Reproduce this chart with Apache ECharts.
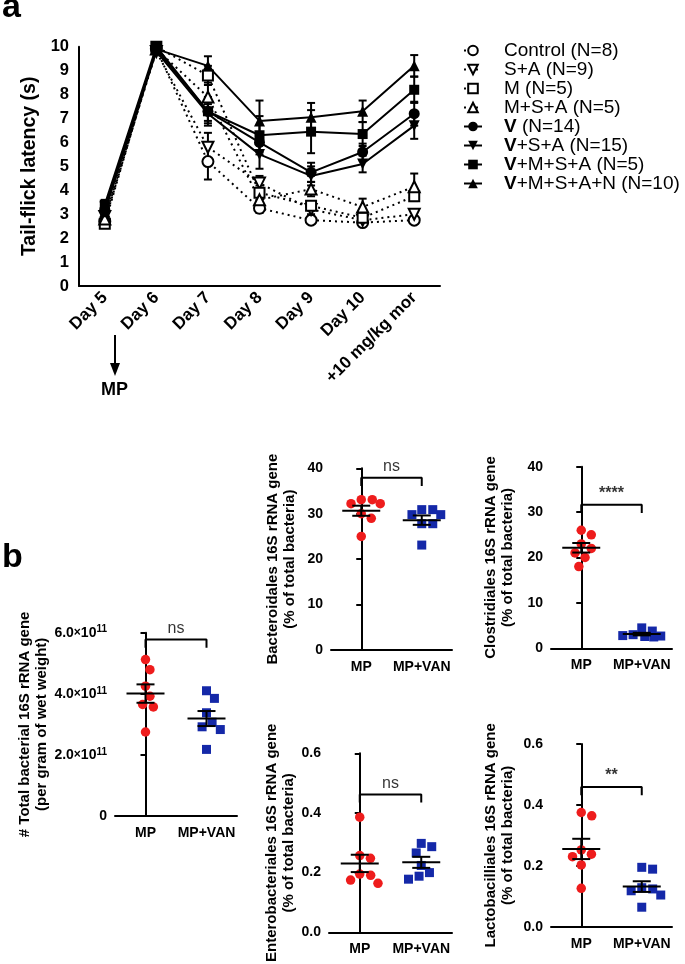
<!DOCTYPE html>
<html><head><meta charset="utf-8">
<script src="https://cdn.jsdelivr.net/npm/echarts@6/dist/echarts.min.js"></script>
<style>html,body{margin:0;padding:0;background:#fff}#c{width:685px;height:964px}</style>
</head><body><div id="c"></div>
<script>
// ---------- Panel a data ----------
const days = ['Day 5','Day 6','Day 7','Day 8','Day 9','Day 10','+10 mg/kg mor'];
const groupNames = ['Control (N=8)','S+A (N=9)','M (N=5)','M+S+A (N=5)','V (N=14)','V+S+A (N=15)','V+M+S+A (N=5)','V+M+S+A+N (N=10)'];
const controlMean = [2.7, 9.9, 5.2, 3.25, 2.75, 2.65, 2.75];
const controlErr  = [0.2, 0.1, 0.75, 0.2, 0.15, 0.15, 0.15];
const saMean      = [2.9, 9.8, 5.8, 4.3, 3.2, 2.75, 3.0];
const saErr       = [0.2, 0.1, 0.6, 0.3, 0.2, 0.15, 0.15];
const mMean       = [2.6, 10.0, 8.8, 3.9, 3.35, 2.85, 3.75];
const mErr        = [0.15, 0, 0.4, 0.3, 0.2, 0.15, 0.2];
const msaMean     = [2.8, 9.9, 7.9, 3.6, 4.05, 3.3, 4.15];
const msaErr      = [0.2, 0.1, 0.6, 0.3, 0.3, 0.35, 0.55];
const vMean       = [3.2, 9.9, 7.3, 6.0, 4.75, 5.6, 7.2];
const vErr        = [0.2, 0.1, 0.4, 0.4, 0.4, 0.35, 0.5];
const vsaMean     = [3.3, 9.8, 7.2, 5.5, 4.6, 5.1, 6.7];
const vsaErr      = [0.2, 0.1, 0.4, 0.6, 0.4, 0.35, 0.55];
const vmsaMean    = [3.4, 10.0, 7.3, 6.3, 6.45, 6.35, 8.2];
const vmsaErr     = [0.2, 0, 0.6, 0.8, 0.9, 0.5, 0.55];
const vmsanMean   = [3.1, 9.9, 9.2, 6.9, 7.05, 7.3, 9.2];
const vmsanErr    = [0.2, 0.1, 0.4, 0.85, 0.6, 0.45, 0.45];

// ---------- Panel b data ----------
const bCategories = ['MP','MP+VAN'];
const totalMP  = [5.12e11, 4.79e11, 4.25e11, 3.92e11, 3.65e11, 3.57e11, 2.75e11];
const totalVAN = [4.10e11, 3.85e11, 3.38e11, 3.07e11, 2.92e11, 2.83e11, 2.18e11];
const bactMP   = [33.1, 33.1, 32.2, 32.2, 30.0, 29.0, 25.0];
const bactVAN  = [30.9, 30.9, 29.8, 29.8, 27.8, 27.8, 23.1];
const closMP   = [26.0, 25.0, 23.0, 22.0, 21.0, 20.0, 18.0];
const closVAN  = [4.5, 3.8, 3.0, 2.8, 2.7, 2.6, 2.5];
const enteroMP = [0.386, 0.257, 0.248, 0.195, 0.191, 0.175, 0.164];
const enteroVAN= [0.298, 0.287, 0.266, 0.224, 0.200, 0.188, 0.178];
const lactoMP  = [0.375, 0.364, 0.252, 0.238, 0.230, 0.203, 0.126];
const lactoVAN = [0.195, 0.189, 0.128, 0.124, 0.118, 0.104, 0.064];
const sigLabels = ['ns','ns','****','ns','**'];
const bracketLevels = [5.78e11, 37.9, 31.6, 0.462, 0.459];
const yMaxB = [6e11, 40, 40, 0.6, 0.6];
const yStepB = [2e11, 10, 10, 0.2, 0.2];
const bTitles = [
  '# Total bacterial 16S rRNA gene\n(per gram of wet weight)',
  'Bacteroidales 16S rRNA gene\n(% of total bacteria)',
  'Clostridiales 16S rRNA gene\n(% of total bacteria)',
  'Enterobacteriales 16S rRNA gene\n(% of total bacteria)',
  'Lactobacilliales 16S rRNA gene\n(% of total bacteria)'
];

// ---------- layout / style ----------
const FONT = "'Liberation Sans', Arial, sans-serif";
const RED = '#ee1c1c', BLUE = '#1428a8';
const DOWN = 'path://M0,0L10,0L5,9Z';
const gridA = {left:79, top:46.7, width:361, height:239.3};
const bLayout = [
  {left:115, top:632.7, width:122, height:183.3, gap:64},
  {left:331, top:468.3, width:121, height:181.7, gap:33},
  {left:551, top:466.7, width:121, height:181.6, gap:35},
  {left:329, top:753.3, width:123, height:183.4, gap:31},
  {left:551, top:744,   width:121, height:182.7, gap:35}
];

const groups = [
  {mean:controlMean, err:controlErr, symbol:'circle', open:true,  dotted:true},
  {mean:saMean,      err:saErr,      symbol:DOWN,     open:true,  dotted:true},
  {mean:mMean,       err:mErr,       symbol:'rect',   open:true,  dotted:true},
  {mean:msaMean,     err:msaErr,     symbol:'triangle',open:true, dotted:true},
  {mean:vMean,       err:vErr,       symbol:'circle', open:false, dotted:false},
  {mean:vsaMean,     err:vsaErr,     symbol:DOWN,     open:false, dotted:false},
  {mean:vmsaMean,    err:vmsaErr,    symbol:'rect',   open:false, dotted:false},
  {mean:vmsanMean,   err:vmsanErr,   symbol:'triangle',open:false,dotted:false}
];

const axisLineStyle = {show:true, lineStyle:{color:'#000', width:2}};
const grids = [gridA].concat(bLayout.map(l => ({left:l.left, top:l.top, width:l.width, height:l.height})));
const xAxes = [{
  type:'category', gridIndex:0, data:days, boundaryGap:true,
  axisLine:axisLineStyle, axisTick:{alignWithLabel:true, length:7, lineStyle:{width:2,color:'#000'}},
  axisLabel:{rotate:45, fontSize:17, fontWeight:'bold', color:'#000', fontFamily:FONT, margin:9, interval:0}
}];
const yAxes = [{
  type:'value', gridIndex:0, min:0, max:10, interval:1,
  name:'Tail-flick latency (s)', nameLocation:'middle', nameGap:31,
  nameTextStyle:{fontSize:19.5, fontWeight:'bold', color:'#000', fontFamily:FONT},
  axisLine:axisLineStyle, axisTick:{length:7, lineStyle:{width:2,color:'#000'}},
  axisLabel:{fontSize:16.5, fontWeight:'bold', color:'#000', fontFamily:FONT, margin:10},
  splitLine:{show:false}
}];
const series = [];

// error bars panel a
groups.forEach((g, gi) => {
  series.push({
    type:'custom', xAxisIndex:0, yAxisIndex:0, silent:true, z:1,
    data: g.mean.map((m,i) => [i, m - g.err[i], m + g.err[i]]),
    encode:{x:0, y:[1,2]},
    renderItem:(params, api) => {
      const lo = api.coord([api.value(0), api.value(1)]);
      const hi = api.coord([api.value(0), api.value(2)]);
      if (Math.abs(lo[1]-hi[1]) < 1) return {type:'group', children:[]};
      const st = {stroke:'#000', lineWidth:2};
      return {type:'group', children:[
        {type:'line', shape:{x1:lo[0], y1:lo[1], x2:hi[0], y2:hi[1]}, style:st},
        {type:'line', shape:{x1:hi[0]-4, y1:hi[1], x2:hi[0]+4, y2:hi[1]}, style:st},
        {type:'line', shape:{x1:lo[0]-4, y1:lo[1], x2:lo[0]+4, y2:lo[1]}, style:st}
      ]};
    }
  });
});
groups.forEach((g, gi) => {
  series.push({
    type:'line', name:groupNames[gi], xAxisIndex:0, yAxisIndex:0, z:3 + (g.open?0:1),
    data:g.mean, symbol:g.symbol, symbolSize: g.symbol==='rect' ? 10 : 11,
    showAllSymbol:true,
    lineStyle:{color:'#000', width:2, type: g.dotted ? [2,4] : 'solid'},
    itemStyle:{color: g.open ? '#fff' : '#000', borderColor:'#000', borderWidth: g.open ? 2 : 0},
    emphasis:{disabled:true}
  });
});

// ---------- panel b ----------
function mean(a){ return a.reduce((s,v)=>s+v,0)/a.length; }
function sem(a){ const m=mean(a); const v=a.reduce((s,x)=>s+(x-m)*(x-m),0)/(a.length-1); return Math.sqrt(v/a.length); }
// simple beeswarm: spreads overlapping dots sideways, limited to a maximum width
function swarm(vals, pxY, pxX, d, maxW){
  const placed = [], out = new Array(vals.length);
  const order = vals.map((v,i)=>i).sort((a,b)=>vals[b]-vals[a]);
  for (const i of order){
    const y = vals[i]*pxY;
    const near = placed.filter(p => Math.abs(p.y-y) < d);
    const cands = [0];
    near.forEach(p => { const dx = Math.sqrt(d*d-(p.y-y)*(p.y-y)); cands.push(p.x+dx+0.01, p.x-dx-0.01); });
    let ok = cands.filter(c => Math.abs(c) <= maxW && near.every(p => (p.x-c)*(p.x-c)+(p.y-y)*(p.y-y) >= d*d-0.001));
    if (!ok.length) {
      const grid = []; for (let c=-maxW; c<=maxW; c+=1) grid.push(c);
      grid.sort((a,b)=>{
        const fa = near.reduce((s,p)=>Math.min(s,Math.hypot(p.x-a,p.y-y)),1e9);
        const fb = near.reduce((s,p)=>Math.min(s,Math.hypot(p.x-b,p.y-y)),1e9);
        return fb-fa;
      });
      ok = [grid[0]];
    }
    ok.sort((a,b)=>Math.abs(a)-Math.abs(b) || b-a);
    placed.push({x:ok[0], y}); out[i] = ok[0]/pxX;
  }
  return out;
}
const bSets = [[totalMP,totalVAN],[bactMP,bactVAN],[closMP,closVAN],[enteroMP,enteroVAN],[lactoMP,lactoVAN]];
const txt = {color:'#000', fontFamily:FONT, fontWeight:'bold', fontSize:14};
bSets.forEach((pair, k) => {
  const gi = k+1, L = bLayout[k];
  xAxes.push({
    type:'category', gridIndex:gi, data:bCategories, boundaryGap:true,
    axisLine:axisLineStyle, axisTick:{alignWithLabel:true, length:6, lineStyle:{width:2,color:'#000'}},
    axisLabel:Object.assign({margin:10, interval:0}, txt)
  });
  const valIdx = xAxes.length;
  xAxes.push({type:'value', gridIndex:gi, min:-0.5, max:1.5, show:false});
  const yIdx = yAxes.length;
  const yl = {margin:8};
  if (k===0){
    yl.formatter = v => v===0 ? '0' : '{m|'+(v/1e11).toFixed(1)+'}{x|×}{m|10}{s|11}';
    yl.rich = {m:Object.assign({}, txt), x:{fontSize:12, color:'#000', fontFamily:FONT},
               s:{fontSize:10, fontWeight:'bold', color:'#000', fontFamily:FONT, verticalAlign:'top', padding:[0,0,6,0]}};
  } else if (yMaxB[k] < 1){
    yl.formatter = v => v.toFixed(1);
  }
  yAxes.push({
    type:'value', gridIndex:gi, min:0, max:yMaxB[k], interval:yStepB[k],
    name:bTitles[k], nameLocation:'middle', nameGap:L.gap,
    nameTextStyle:{fontSize:15, fontWeight:'bold', color:'#000', fontFamily:FONT, lineHeight:17},
    axisLine:axisLineStyle, axisTick:{length:5, lineStyle:{width:2,color:'#000'}},
    axisLabel:Object.assign(yl, txt),
    splitLine:{show:false}
  });
  const pxY = L.height / yMaxB[k], pxX = L.width / 2;
  const colors = [RED, BLUE], syms = ['circle','rect'];
  pair.forEach((vals, c) => {
    const offs = swarm(vals, pxY, pxX, 11, 19);
    series.push({
      type:'scatter', xAxisIndex:valIdx, yAxisIndex:yIdx, z:2,
      data: vals.map((v,i)=>[c+offs[i], v]),
      symbol:syms[c], symbolSize: c===0 ? 9.5 : 9,
      itemStyle:{color:colors[c], opacity:1}, emphasis:{disabled:true}
    });
  });
  series.push({
    type:'custom', xAxisIndex:valIdx, yAxisIndex:yIdx, silent:true, z:4,
    data: pair.map((vals,c)=>[c, mean(vals), sem(vals)]),
    encode:{x:0, y:1},
    renderItem:(params, api) => {
      const c = api.value(0), m = api.value(1), s = api.value(2);
      const pm = api.coord([c,m]), pt = api.coord([c,m+s]), pb = api.coord([c,m-s]);
      const st = {stroke:'#000', lineWidth:2};
      return {type:'group', children:[
        {type:'line', shape:{x1:pm[0]-19, y1:pm[1], x2:pm[0]+19, y2:pm[1]}, style:st},
        {type:'line', shape:{x1:pt[0], y1:pt[1], x2:pb[0], y2:pb[1]}, style:st},
        {type:'line', shape:{x1:pt[0]-9, y1:pt[1], x2:pt[0]+9, y2:pt[1]}, style:st},
        {type:'line', shape:{x1:pb[0]-9, y1:pb[1], x2:pb[0]+9, y2:pb[1]}, style:st}
      ]};
    }
  });
  const top = bracketLevels[k], leg = yMaxB[k]*0.045;
  series.push({
    type:'line', xAxisIndex:valIdx, yAxisIndex:yIdx, silent:true, symbol:'none', z:3,
    data:[[0, top-leg],[0, top],[1, top],[1, top-leg]],
    lineStyle:{color:'#000', width:2}
  });
  series.push({
    type:'scatter', xAxisIndex:valIdx, yAxisIndex:yIdx, silent:true, symbolSize:0,
    data:[[0.5, top]],
    label:{show:true, position:'top', distance:3, formatter:sigLabels[k], color:'#000',
           fontFamily:FONT, fontSize:16, fontWeight: sigLabels[k]==='ns' ? 'normal' : 'bold'}
  });
});

const chart = echarts.init(document.getElementById('c'), null, {renderer:'canvas'});
chart.setOption({
  animation:false,
  backgroundColor:'#fff',
  grid:grids, xAxis:xAxes, yAxis:yAxes, series:series,
  legend:{
    data:groupNames, orient:'vertical', left:458, top:36, itemWidth:18, itemHeight:12, itemGap:0,
    selectedMode:false,
    formatter: n => '{gap|}' + (n.charAt(0)==='V' ? '{b|V}{t|'+n.slice(1)+'}' : '{t|'+n+'}'),
    textStyle:{rich:{
      gap:{width:17, lineHeight:19.2},
      t:{fontSize:19, fontFamily:FONT, color:'#000', lineHeight:19.2},
      b:{fontSize:19, fontFamily:FONT, color:'#000', fontWeight:'bold', lineHeight:19.2}
    }}
  },
  graphic:[
    {type:'text', left:2, top:-9, style:{text:'a', font:"bold 34px 'Liberation Sans', Arial", fill:'#000'}},
    {type:'text', left:2, top:541, style:{text:'b', font:"bold 34px 'Liberation Sans', Arial", fill:'#000'}},
    {type:'line', shape:{x1:115, y1:335, x2:115, y2:366}, style:{stroke:'#000', lineWidth:2}},
    {type:'polygon', shape:{points:[[110,363],[120,363],[115,376]]}, style:{fill:'#000'}},
    {type:'text', left:101, top:381, style:{text:'MP', font:"bold 18px 'Liberation Sans', Arial", fill:'#000'}}
  ]
});
</script></body></html>
